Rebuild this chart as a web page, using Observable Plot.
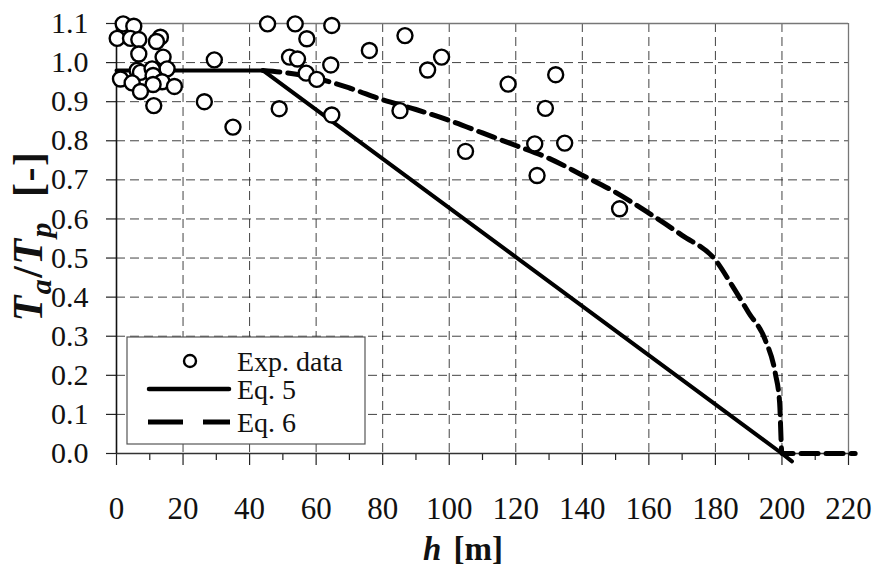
<!DOCTYPE html>
<html>
<head>
<meta charset="utf-8">
<script src="https://cdn.jsdelivr.net/npm/d3@7"></script>
<script src="https://cdn.jsdelivr.net/npm/@observablehq/plot@0.6"></script>
<style>
  html, body { margin: 0; padding: 0; background: #fff; }
  #chart svg { display: block; }
  #chart svg text { font-family: "Liberation Serif", "DejaVu Serif", serif !important; }
</style>
</head>
<body>
<div id="chart"></div>
<script>
// Experimental data
const expH = [2.0, 5.2, 0.2, 4.2, 6.7, 13.2, 12.0, 6.7, 14.0, 15.2, 6.2, 7.2, 10.7, 11.0, 1.2, 4.7, 13.7, 11.0, 7.2, 17.4, 11.2,
              29.4, 26.4, 35.0, 45.4, 53.7, 64.7, 57.2, 52.0, 54.4, 64.4, 57.0, 60.2, 48.9, 64.7,
              76.0, 86.7, 93.5, 97.7, 85.2,
              104.9, 125.7, 134.7, 126.4, 117.7, 132.0, 128.9, 151.2];
const expY = [1.099, 1.093, 1.062, 1.062, 1.059, 1.065, 1.054, 1.022, 1.014, 0.984, 0.980, 0.975, 0.984, 0.967, 0.958, 0.948, 0.951, 0.944, 0.926, 0.939, 0.890,
              1.007, 0.900, 0.835, 1.099, 1.099, 1.095, 1.061, 1.014, 1.009, 0.994, 0.973, 0.957, 0.882, 0.866,
              1.031, 1.069, 0.981, 1.014, 0.877,
              0.773, 0.792, 0.794, 0.711, 0.945, 0.969, 0.883, 0.626];

// Eq. 5 (solid)
const eq5H = [0, 44, 200, 203];
const eq5Y = [0.98, 0.98, 0, -0.02];

// Eq. 6 (dashed)
const eq6H = [44, 50, 60, 70, 80, 90, 100, 110, 120, 130, 140, 150, 160, 170, 180, 185, 190, 195, 198, 199.3, 200, 222];
const eq6Y = [0.98, 0.975, 0.96, 0.935, 0.905, 0.88, 0.852, 0.82, 0.788, 0.755, 0.712, 0.668, 0.615, 0.558, 0.495, 0.43, 0.36, 0.29, 0.205, 0.13, 0, 0];

// Ticks
const xMajor = [0, 20, 40, 60, 80, 100, 120, 140, 160, 180, 200, 220];
const xMinor = [10, 30, 50, 70, 90, 110, 130, 150, 170, 190, 210];
const xGrid = [20, 40, 60, 80, 100, 120, 140, 160, 180, 200];
const yTicks = [0, 0.1, 0.2, 0.3, 0.4, 0.5, 0.6, 0.7, 0.8, 0.9, 1.0, 1.1];
const yGrid = [0.1, 0.2, 0.3, 0.4, 0.5, 0.6, 0.7, 0.8, 0.9, 1.0];

// Legend
const legendLabels = ["Exp. data", "Eq. 5", "Eq. 6"];

const exp = expH.map((h, i) => ({h, y: expY[i]}));
const eq5 = eq5H.map((h, i) => ({h, y: eq5Y[i]}));
const eq6 = eq6H.map((h, i) => ({h, y: eq6Y[i]}));

const FONT = "Liberation Serif, DejaVu Serif, serif";

const plot = Plot.plot({
  width: 877,
  height: 567,
  marginLeft: 116,
  marginRight: 29,
  marginTop: 23,
  marginBottom: 114,
  style: {fontFamily: FONT, background: "#fff", overflow: "visible"},
  x: {domain: [0, 220], label: null},
  y: {domain: [0, 1.1], label: null},
  marks: [
    Plot.gridX(xGrid, {stroke: "#222", strokeOpacity: 0.85, strokeWidth: 1, strokeDasharray: "9,5"}),
    Plot.gridY(yGrid, {stroke: "#222", strokeOpacity: 0.85, strokeWidth: 1, strokeDasharray: "9,5"}),
    Plot.ruleY([1.1], {stroke: "#777", strokeWidth: 1.3}),
    Plot.ruleX([220], {stroke: "#777", strokeWidth: 1.3}),
    Plot.axisX(xMinor, {tickSize: 7, tickFormat: () => "", stroke: "#222", strokeWidth: 1.2, label: null}),
    Plot.axisX(xMajor, {tickSize: 12, tickPadding: 31, fontSize: 31, fill: "#111", stroke: "#222", strokeWidth: 1.2, label: null}),
    Plot.axisY(yTicks, {tickSize: 10, tickPadding: 18, fontSize: 30, fill: "#111", tickFormat: d3.format(".1f"), stroke: "#222", strokeWidth: 1.2, label: null}),
    Plot.ruleY([0], {stroke: "#333", strokeWidth: 1.6}),
    Plot.ruleX([0], {stroke: "#111", strokeWidth: 1.6}),
    Plot.line(eq5, {x: "h", y: "y", stroke: "#000", strokeWidth: 4}),
    Plot.line(eq6, {x: "h", y: "y", stroke: "#000", strokeWidth: 5, strokeDasharray: "17,8", curve: "monotone-x"}),
    Plot.dot(exp, {x: "h", y: "y", r: 7.5, fill: "#fff", stroke: "#000", strokeWidth: 2.4})
  ]
});

document.getElementById("chart").appendChild(plot);

// Titles and legend
const svg = d3.select(plot);

// Y-axis title
const yt = svg.append("text")
  .attr("transform", "translate(42,236) rotate(-90)")
  .attr("text-anchor", "middle")
  .attr("font-family", FONT)
  .attr("font-size", 42)
  .attr("font-weight", "bold")
  .attr("letter-spacing", 1.5)
  .attr("fill", "#111");
yt.append("tspan").attr("font-style", "italic").text("T");
yt.append("tspan").attr("font-style", "italic").attr("font-size", 30).attr("dy", 9).text("a");
yt.append("tspan").attr("dy", -9).text("/");
yt.append("tspan").attr("font-style", "italic").text("T");
yt.append("tspan").attr("font-style", "italic").attr("font-size", 30).attr("dy", 9).text("p");
yt.append("tspan").attr("dy", -9).attr("dx", 24).text("[-]");

// X-axis title
const xt = svg.append("text")
  .attr("x", 463).attr("y", 560)
  .attr("text-anchor", "middle")
  .attr("font-family", FONT)
  .attr("font-size", 33)
  .attr("font-weight", "bold")
  .attr("fill", "#111");
xt.append("tspan").attr("font-style", "italic").text("h");
xt.append("tspan").attr("dx", 12).text("[m]");

// Legend box
const lg = svg.append("g");
lg.append("rect")
  .attr("x", 127).attr("y", 337).attr("width", 238).attr("height", 107)
  .attr("fill", "#fff").attr("stroke", "#555").attr("stroke-width", 1.2);
lg.append("circle")
  .attr("cx", 190).attr("cy", 361).attr("r", 6)
  .attr("fill", "#fff").attr("stroke", "#000").attr("stroke-width", 2.4);
lg.append("line")
  .attr("x1", 149).attr("x2", 229).attr("y1", 389).attr("y2", 389)
  .attr("stroke", "#000").attr("stroke-width", 4.5).attr("stroke-linecap", "round");
lg.append("line")
  .attr("x1", 148).attr("x2", 230).attr("y1", 422).attr("y2", 422)
  .attr("stroke", "#000").attr("stroke-width", 5).attr("stroke-dasharray", "35,20");
[361, 389, 422].forEach((yy, i) => {
  lg.append("text")
    .attr("x", 237).attr("y", yy).attr("dy", "0.35em")
    .attr("text-anchor", "start")
    .attr("font-family", FONT).attr("font-size", 28).attr("fill", "#111")
    .text(legendLabels[i]);
});
</script>
</body>
</html>
